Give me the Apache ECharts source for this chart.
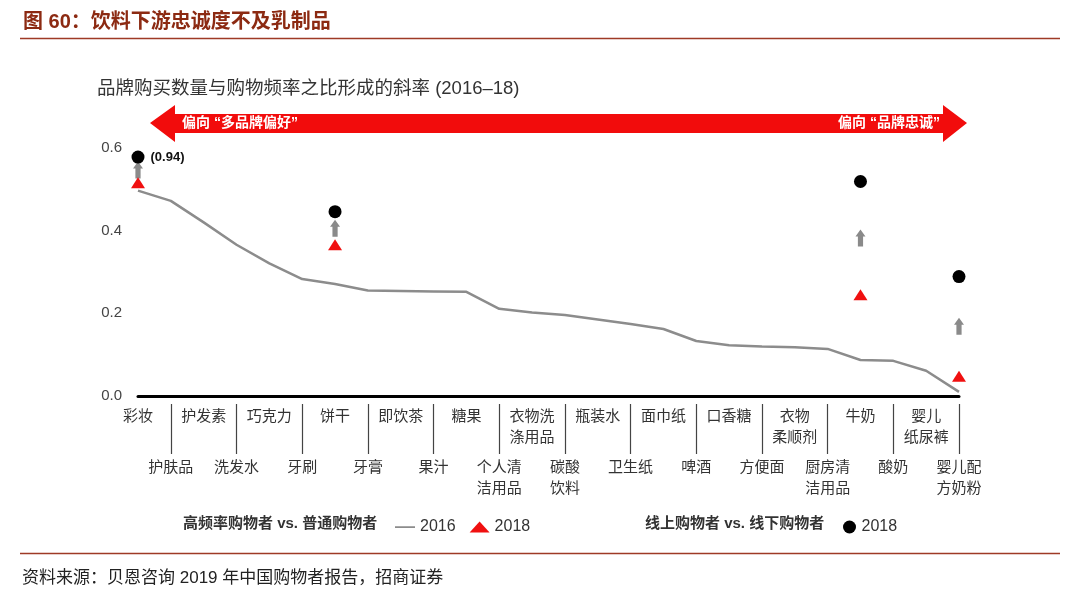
<!DOCTYPE html>
<html>
<head>
<meta charset="utf-8">
<script src="https://cdn.jsdelivr.net/npm/echarts/dist/echarts.min.js"></script>
<style>
  html, body { margin: 0; padding: 0; background: #fff; }
  #chart { width: 1080px; height: 602px; }
</style>
</head>
<body>
<div id="chart"></div>
<script>
// categories, left to right (top row = even index, bottom row = odd index)
var categories = [
  '彩妆', '护肤品', '护发素', '洗发水', '巧克力', '牙刷', '饼干', '牙膏',
  '即饮茶', '果汁', '糖果', '个人清\n洁用品', '衣物洗\n涤用品', '碳酸\n饮料',
  '瓶装水', '卫生纸', '面巾纸', '啤酒', '口香糖', '方便面', '衣物\n柔顺剂',
  '厨房清\n洁用品', '牛奶', '酸奶', '婴儿\n纸尿裤', '婴儿配\n方奶粉'
]
// 高频率购物者 vs. 普通购物者, 2016 slope
var line2016 = [
  0.497, 0.472, 0.42, 0.366, 0.321, 0.283, 0.271, 0.255, 0.254, 0.253,
  0.252, 0.211, 0.202, 0.196, 0.185, 0.174, 0.162, 0.133, 0.123, 0.12,
  0.118, 0.114, 0.087, 0.085, 0.061, 0.01
]
// highlighted categories
var markCats = ['彩妆', '饼干', '牛奶', '婴儿配\n方奶粉']
// 高频率购物者 vs. 普通购物者, 2018
var tri2018 = [0.516, 0.366, 0.245, 0.048]
// 线上购物者 vs. 线下购物者, 2018 (彩妆 capped at the axis top, real value 0.94)
var dot2018 = [0.578, 0.446, 0.519, 0.289]
var dotLabels = ['(0.94)', '', '', '']
var yTicks = [0, 0.2, 0.4, 0.6]

var CJK = "'Liberation Sans', 'Noto Sans CJK SC', sans-serif"

var triData = markCats.map(function (c, i) { return [c, tri2018[i]] })
var dotData = markCats.map(function (c, i) {
  return {
    value: [c, dot2018[i]],
    label: { show: !!dotLabels[i], formatter: dotLabels[i] }
  }
})
var arrowData = markCats.map(function (c, i) { return [c, (tri2018[i] + dot2018[i]) / 2] })

// thin dash icon, tiny corner dots keep the 20x11 box
var dashIcon = 'path://M0,0 L0.01,0 L0,0.01 Z M0,4.8 L20,4.8 L20,6.6 L0,6.6 Z M20,11 L19.99,11 L20,10.99 Z'

var chart = echarts.init(document.getElementById('chart'))
chart.setOption({
  animation: false,
  backgroundColor: '#fff',
  grid: { left: 138, right: 121, top: 148, bottom: 206 },
  xAxis: [
    {
      type: 'category',
      data: categories,
      boundaryGap: false,
      axisLine: { lineStyle: { color: '#000', width: 3 } },
      axisTick: { show: false },
      axisLabel: { show: false }
    },
    {
      type: 'category',
      data: categories,
      boundaryGap: false,
      position: 'bottom',
      offset: 8,
      axisLine: { show: false },
      axisTick: {
        show: true,
        length: 50,
        interval: function (idx) { return idx % 2 === 1 },
        lineStyle: { color: '#444', width: 1.2 }
      },
      axisLabel: {
        interval: 0,
        margin: 2,
        hideOverlap: false,
        formatter: function (v, idx) {
          return idx % 2 ? '{sp| }\n{b|' + v + '}' : '{a|' + v + '}'
        },
        rich: {
          a: { fontSize: 15, lineHeight: 21, color: '#333', fontFamily: CJK },
          b: { fontSize: 15, lineHeight: 21, color: '#333', fontFamily: CJK },
          sp: { fontSize: 10, lineHeight: 51 }
        }
      }
    }
  ],
  yAxis: {
    type: 'value',
    min: yTicks[0],
    max: yTicks[yTicks.length - 1],
    interval: 0.2,
    axisLine: { show: false },
    axisTick: { show: false },
    splitLine: { show: false },
    axisLabel: {
      margin: 16,
      fontSize: 15,
      color: '#444',
      fontFamily: CJK,
      formatter: function (v) { return v.toFixed(1) }
    }
  },
  legend: [
    {
      left: 390,
      top: 514,
      data: [{ name: '2016', icon: dashIcon }, { name: '2018' }],
      selectedMode: false,
      itemWidth: 20,
      itemHeight: 11,
      itemGap: 14,
      textStyle: { fontSize: 16, color: '#333', fontFamily: CJK }
    },
    {
      left: 838,
      top: 514,
      data: ['2018 '],
      selectedMode: false,
      itemWidth: 14,
      itemHeight: 13,
      formatter: function (n) { return n.trim() },
      textStyle: { fontSize: 16, color: '#333', fontFamily: CJK }
    }
  ],
  series: [
    {
      name: '2016',
      type: 'line',
      data: line2016,
      symbol: 'none',
      lineStyle: { color: '#8c8c8c', width: 2.5 },
      itemStyle: { color: '#8c8c8c' },
      z: 2
    },
    {
      name: 'arrows',
      type: 'scatter',
      data: arrowData,
      symbol: 'path://M5,0 L10,7 L7.6,7 L7.6,17 L2.4,17 L2.4,7 L0,7 Z',
      symbolSize: [10, 17],
      itemStyle: { color: '#8a8a8a', opacity: 1 },
      silent: true,
      z: 3
    },
    {
      name: '2018',
      type: 'scatter',
      data: triData,
      symbol: 'triangle',
      symbolSize: [14, 11],
      itemStyle: { color: '#f01010', opacity: 1 },
      z: 4
    },
    {
      name: '2018 ',
      type: 'scatter',
      data: dotData,
      symbol: 'circle',
      symbolSize: 13,
      itemStyle: { color: '#000', opacity: 1 },
      label: {
        position: 'right',
        distance: 6,
        fontSize: 13,
        fontWeight: 'bold',
        color: '#111',
        fontFamily: CJK
      },
      z: 5
    }
  ],
  graphic: [
    {
      type: 'text', x: 23, y: 22,
      style: {
        text: '图 60：饮料下游忠诚度不及乳制品',
        fill: '#8c2a12',
        font: 'bold 20px ' + CJK,
        textVerticalAlign: 'middle', verticalAlign: 'middle'
      }
    },
    { type: 'line', shape: { x1: 20, y1: 38.5, x2: 1060, y2: 38.5 }, style: { stroke: '#9e3a26', lineWidth: 1.5 } },
    {
      type: 'text', x: 97, y: 89,
      style: {
        text: '品牌购买数量与购物频率之比形成的斜率 (2016–18)',
        fill: '#333',
        font: '18.5px ' + CJK,
        textVerticalAlign: 'middle', verticalAlign: 'middle'
      }
    },
    {
      type: 'polygon',
      shape: {
        points: [[150, 123], [175, 105], [175, 114], [943, 114], [943, 105],
                 [967, 123], [943, 142], [943, 133], [175, 133], [175, 142]]
      },
      style: { fill: '#f20c0c' }
    },
    {
      type: 'text', x: 182, y: 123,
      style: {
        text: '偏向 “多品牌偏好”',
        fill: '#fff',
        font: 'bold 14px ' + CJK,
        textVerticalAlign: 'middle', verticalAlign: 'middle'
      }
    },
    {
      type: 'text', x: 940, y: 123,
      style: {
        text: '偏向 “品牌忠诚”',
        fill: '#fff',
        font: 'bold 14px ' + CJK,
        textAlign: 'right', align: 'right',
        textVerticalAlign: 'middle', verticalAlign: 'middle'
      }
    },
    {
      type: 'text', x: 183, y: 524,
      style: {
        text: '高频率购物者 vs. 普通购物者',
        fill: '#333',
        font: 'bold 15px ' + CJK,
        textVerticalAlign: 'middle', verticalAlign: 'middle'
      }
    },
    {
      type: 'text', x: 645, y: 524,
      style: {
        text: '线上购物者 vs. 线下购物者',
        fill: '#333',
        font: 'bold 15px ' + CJK,
        textVerticalAlign: 'middle', verticalAlign: 'middle'
      }
    },
    { type: 'line', shape: { x1: 20, y1: 553.5, x2: 1060, y2: 553.5 }, style: { stroke: '#9e3a26', lineWidth: 1.5 } },
    {
      type: 'text', x: 22, y: 578,
      style: {
        text: '资料来源：贝恩咨询 2019 年中国购物者报告，招商证券',
        fill: '#222',
        font: '17px ' + CJK,
        textVerticalAlign: 'middle', verticalAlign: 'middle'
      }
    }
  ]
})
</script>
</body>
</html>
